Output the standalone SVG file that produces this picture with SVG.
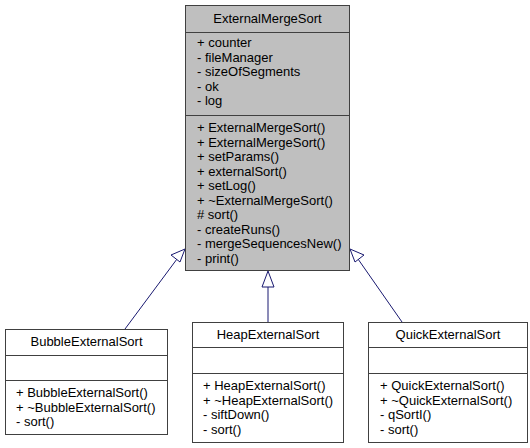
<svg xmlns="http://www.w3.org/2000/svg" width="530" height="448" viewBox="0 0 530 448">
<style>
  text { font-family: "Liberation Sans", Arial, sans-serif; font-size: 13px; fill: #000; }
  .title { text-anchor: middle; }
  .box { stroke: #404040; stroke-width: 1; }
  .base { fill: #bfbfbf; }
  .derived { fill: #ffffff; }
  .sep { stroke: #404040; stroke-width: 1; }
  .edge { stroke: #191970; stroke-width: 1; fill: none; }
  .head { stroke: #191970; stroke-width: 1; fill: #ffffff; }
</style>
<rect width="530" height="448" fill="#ffffff"/>

<g id="connectors">
  <!-- BubbleExternalSort -> ExternalMergeSort -->
  <path class="edge" d="M125,329 L177,259"/>
  <polygon class="head" points="185,249 171,255 180,262"/>
  <!-- HeapExternalSort -> ExternalMergeSort -->
  <path class="edge" d="M268,322 L268,287"/>
  <polygon class="head" points="268,271 262,287 274,287"/>
  <!-- QuickExternalSort -> ExternalMergeSort -->
  <path class="edge" d="M402,322 L358,259"/>
  <polygon class="head" points="350,249 355,262 364,255"/>
</g>

<g id="ExternalMergeSort">
  <rect class="box base" x="185.5" y="5.5" width="164" height="265"/>
  <line class="sep" x1="185.5" y1="32.5" x2="349.5" y2="32.5"/>
  <line class="sep" x1="185.5" y1="115.5" x2="349.5" y2="115.5"/>
  <text class="title" x="267.5" y="23">ExternalMergeSort</text>
  <text x="197" y="47">+ counter</text>
  <text x="197" y="62">- fileManager</text>
  <text x="197" y="76">- sizeOfSegments</text>
  <text x="197" y="91">- ok</text>
  <text x="197" y="105">- log</text>
  <text x="197" y="132">+ ExternalMergeSort()</text>
  <text x="197" y="147">+ ExternalMergeSort()</text>
  <text x="197" y="161">+ setParams()</text>
  <text x="197" y="176">+ externalSort()</text>
  <text x="197" y="190">+ setLog()</text>
  <text x="197" y="205">+ ~ExternalMergeSort()</text>
  <text x="197" y="219"># sort()</text>
  <text x="197" y="234">- createRuns()</text>
  <text x="197" y="248">- mergeSequencesNew()</text>
  <text x="197" y="263">- print()</text>
</g>

<g id="BubbleExternalSort">
  <rect class="box derived" x="5.5" y="329.5" width="162" height="105"/>
  <line class="sep" x1="5.5" y1="355.5" x2="167.5" y2="355.5"/>
  <line class="sep" x1="5.5" y1="380.5" x2="167.5" y2="380.5"/>
  <text class="title" x="86.5" y="346">BubbleExternalSort</text>
  <text x="16" y="397">+ BubbleExternalSort()</text>
  <text x="16" y="412">+ ~BubbleExternalSort()</text>
  <text x="16" y="426">- sort()</text>
</g>

<g id="HeapExternalSort">
  <rect class="box derived" x="192.5" y="322.5" width="151" height="120"/>
  <line class="sep" x1="192.5" y1="347.5" x2="343.5" y2="347.5"/>
  <line class="sep" x1="192.5" y1="373.5" x2="343.5" y2="373.5"/>
  <text class="title" x="268" y="339">HeapExternalSort</text>
  <text x="203" y="390">+ HeapExternalSort()</text>
  <text x="203" y="405">+ ~HeapExternalSort()</text>
  <text x="203" y="419">- siftDown()</text>
  <text x="203" y="434">- sort()</text>
</g>

<g id="QuickExternalSort">
  <rect class="box derived" x="368.5" y="322.5" width="159" height="120"/>
  <line class="sep" x1="368.5" y1="347.5" x2="527.5" y2="347.5"/>
  <line class="sep" x1="368.5" y1="373.5" x2="527.5" y2="373.5"/>
  <text class="title" x="448" y="339">QuickExternalSort</text>
  <text x="380" y="390">+ QuickExternalSort()</text>
  <text x="380" y="405">+ ~QuickExternalSort()</text>
  <text x="380" y="419">- qSortI()</text>
  <text x="380" y="434">- sort()</text>
</g>
</svg>
